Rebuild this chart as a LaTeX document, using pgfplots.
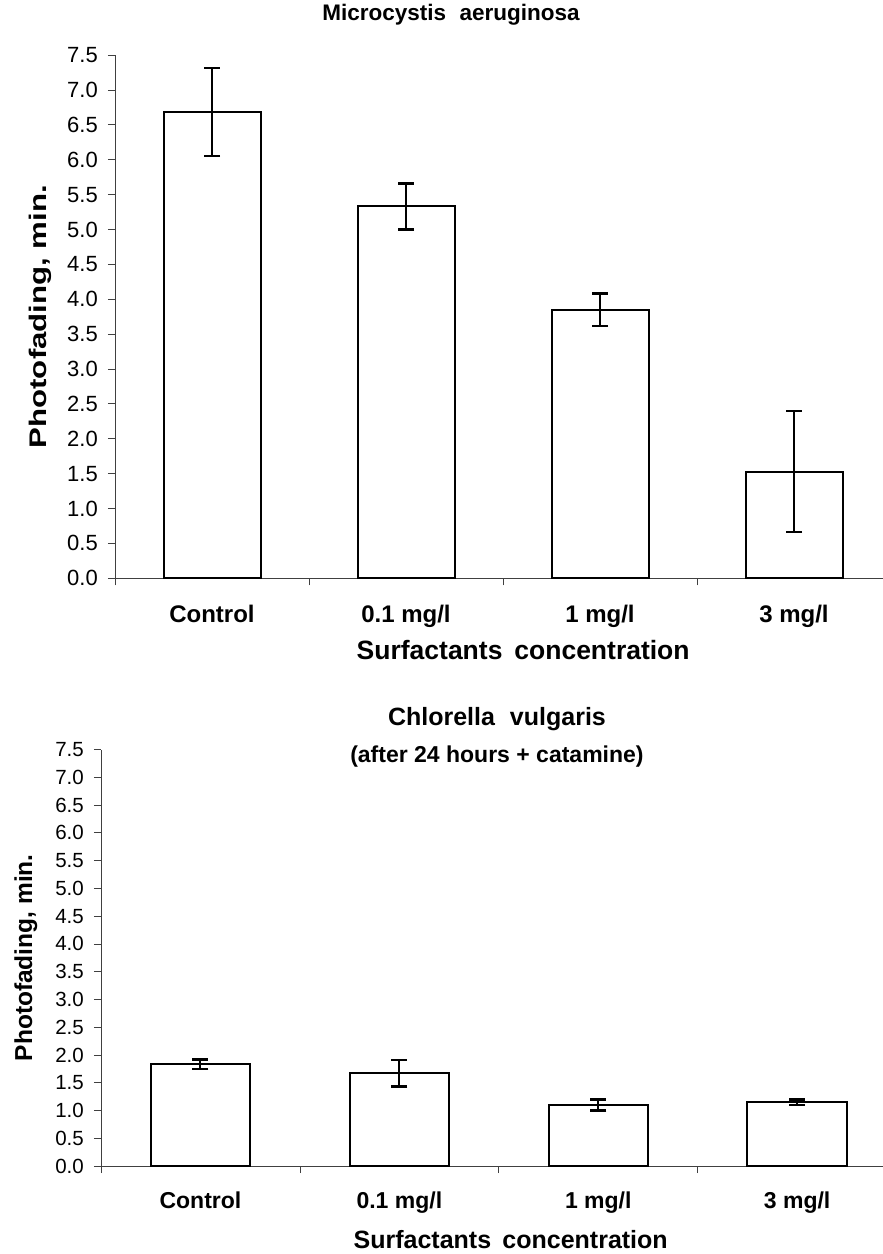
\documentclass[border=0pt]{standalone}
\usepackage{pgfplots}
\pgfplotsset{compat=1.18}
\usepackage{fontspec}
\setmainfont{Liberation Sans}

\newcommand\fs[1]{\fontsize{#1}{#1}\selectfont}

\pgfplotsset{
  photobar/.style={
    scale only axis,
    anchor=south west,
    xmin=-0.5, xmax=3.5, ymin=0, ymax=7.5,
    ybar, bar width=0.5,
    ytick={0,0.5,...,7.5},
    axis x line*=bottom, axis y line*=left,
    axis line style={black!75, line width=0.8pt, -},
    tick align=outside,
    major tick length=7pt,
    tick style={black!75, line width=0.8pt},
    xtick={-0.5,0.5,1.5,2.5,3.5},
    xticklabels={\empty,\empty,\empty,\empty,\empty},
    extra x ticks={0,1,2,3},
    extra x tick labels={Control,0.1 mg/l,1 mg/l,3 mg/l},
    /pgf/number format/.cd, fixed, fixed zerofill, precision=1, assume math mode=true,
    /pgfplots/.cd,
    yticklabel style={anchor=east, inner sep=0pt, xshift=-10pt},
    clip=false,
  },
  photobars/.style={
    fill=white, draw=black, line width=2pt,
    mark options={line width=2.4pt},
    error bars/.cd, y dir=both, y explicit,
    error bar style={line width=2pt, black},
    error mark options={rotate=90, mark size=8pt, black, line width=2.4pt},
  },
}

\begin{document}
\begin{tikzpicture}
\useasboundingbox (0,0) rectangle (883pt,-1254pt);

% Microcystis aeruginosa
\begin{axis}[photobar,
  at={(115pt,-578.3pt)}, width=776pt, height=523.3pt,
  yticklabel style={font=\fs{22}},
  extra x tick style={grid=none, major tick length=0pt,
    tick label style={anchor=base, inner sep=0pt, yshift=-43.7pt, font=\bfseries\fs{24}}},
  title={Microcystis\hspace{0.6em}aeruginosa},
  title style={at={(axis description cs:0.433,1.0554)}, anchor=base, inner sep=0pt, font=\bfseries\fs{22.5}},
  xlabel={Surfactants\hspace{0.45em}concentration},
  xlabel style={at={(axis description cs:0.526,-0.156)}, anchor=base, inner sep=0pt, font=\bfseries\fs{26.5}},
  ylabel={\scalebox{1.3}[1]{Photofading, min.}},
  ylabel style={at={(axis description cs:-0.0889,0.5)}, anchor=base, inner sep=0pt, font=\bfseries\fs{24}},
]
\addplot[photobars] coordinates {
  (0,6.68) +- (0,0.63)
  (1,5.33) +- (0,0.33)
  (2,3.85) +- (0,0.23)
  (3,1.53) +- (0,0.87)
};
\end{axis}

% Chlorella vulgaris
\begin{axis}[photobar,
  at={(101pt,-1166pt)}, width=795.6pt, height=416.4pt,
  yticklabel style={font=\fs{20.5}},
  extra x tick style={grid=none, major tick length=0pt,
    tick label style={anchor=base, inner sep=0pt, yshift=-42pt, font=\bfseries\fs{23}}},
  title={Chlorella\hspace{0.6em}vulgaris},
  title style={at={(axis description cs:0.4977,1.0447)}, anchor=base, inner sep=0pt, font=\bfseries\fs{25}},
  xlabel={Surfactants\hspace{0.45em}concentration},
  xlabel style={at={(axis description cs:0.515,-0.197)}, anchor=base, inner sep=0pt, font=\bfseries\fs{25}},
  ylabel={Photofading, min.},
  ylabel style={at={(axis description cs:-0.0867,0.5)}, anchor=base, inner sep=0pt, font=\bfseries\fs{24.5}},
]
\addplot[photobars] coordinates {
  (0,1.83) +- (0,0.085)
  (1,1.67) +- (0,0.24)
  (2,1.10) +- (0,0.10)
  (3,1.15) +- (0,0.05)
};
\node[anchor=base, inner sep=0pt, font=\bfseries\fs{23}] at (axis description cs:0.4977,0.970) {(after 24 hours + catamine)};
\end{axis}
\end{tikzpicture}
\end{document}
